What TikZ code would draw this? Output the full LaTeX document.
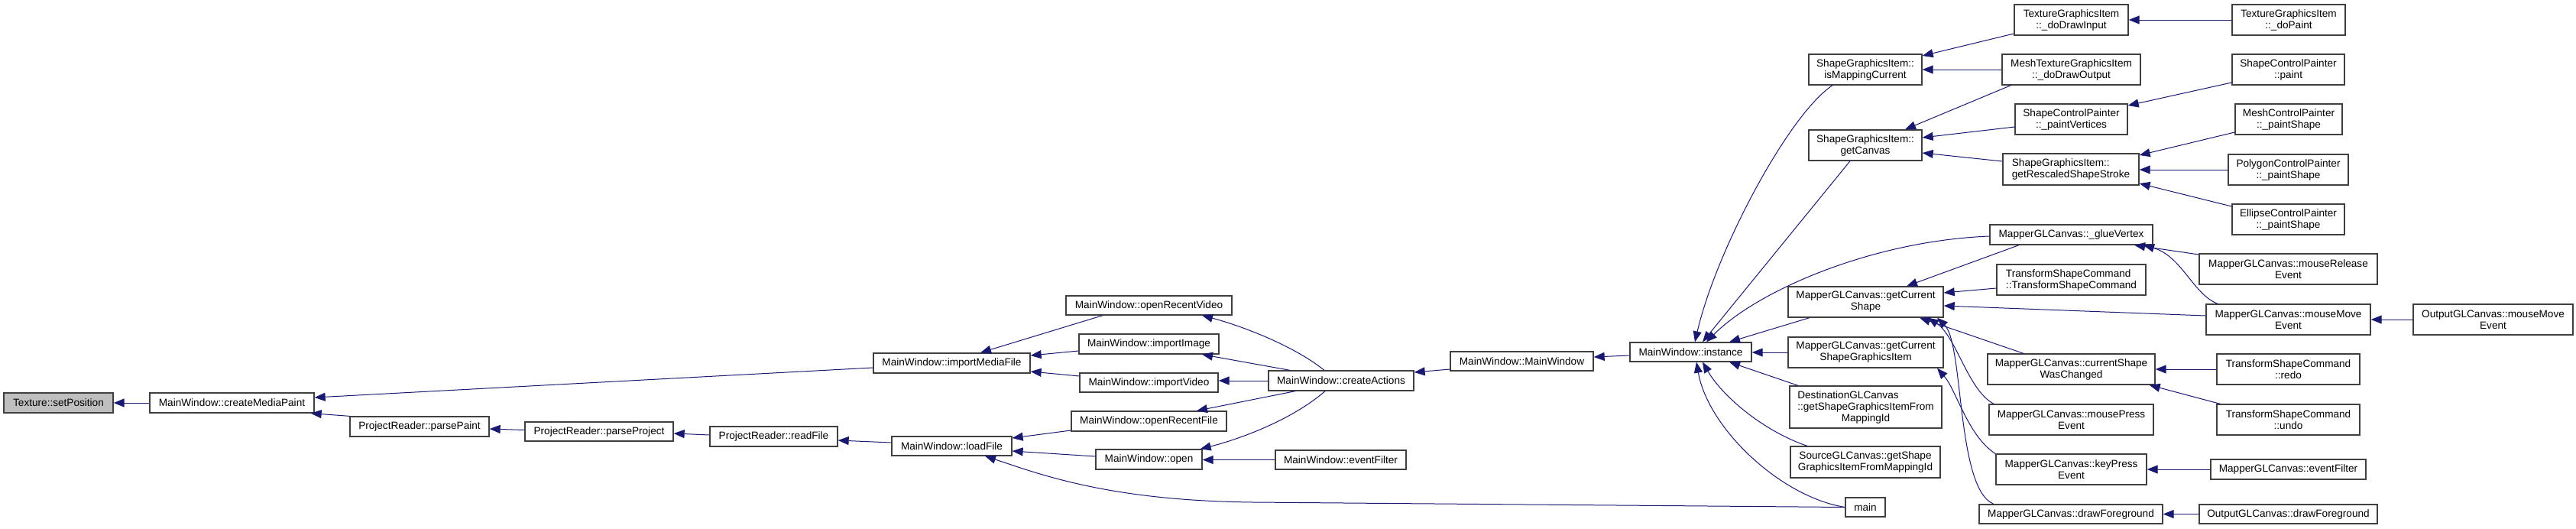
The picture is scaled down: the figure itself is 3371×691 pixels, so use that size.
\documentclass[tikz,border=0pt]{standalone}
\usepackage{fontspec}
\setmainfont{Liberation Sans}
\usetikzlibrary{arrows.meta,calc}
\definecolor{cgEdge}{HTML}{191970}
\definecolor{cgFrame}{HTML}{404040}
\definecolor{cgRoot}{HTML}{BFBFBF}
\tikzset{
  cg node/.style={draw=cgFrame, fill=white, line width=.65pt, inner sep=0pt,
    align=center, font=\fontsize{6.8pt}{7.5pt}\selectfont},
  cg size/.style 2 args={minimum width=#1*.5pt, minimum height=#2*.5pt},
  cg root/.style={cg node, fill=cgRoot},
  cg edge/.style={
    draw=cgEdge,
    line width=.5pt,
    -{Triangle[length=7pt,width=5.5pt]}
  }
}
\begin{document}
\begin{tikzpicture}[x=.5pt,y=-.5pt]
  \useasboundingbox (0,0) rectangle (3371,691);

  \node[cg root, cg size={143}{26}] (tsp) at (76.5,527) {Texture::setPosition};
  \node[cg node, cg size={215}{26}] (cmp) at (303.5,527) {MainWindow::createMediaPaint};
  \node[cg node, cg size={182}{26}] (ppaint) at (549,558) {ProjectReader::parsePaint};
  \node[cg node, cg size={194}{25}] (pproj) at (784,564.5) {ProjectReader::parseProject};
  \node[cg node, cg size={167}{26}] (rf) at (1012.5,571) {ProjectReader::readFile};
  \node[cg node, cg size={205}{26}] (imf) at (1245.5,475) {MainWindow::importMediaFile};
  \node[cg node, cg size={157}{25}] (lf) at (1245.5,583.5) {MainWindow::loadFile};

  \node[cg node, cg size={217}{25}] (orv) at (1503.5,399.5) {MainWindow::openRecentVideo};
  \node[cg node, cg size={183}{26}] (iimg) at (1503.5,450) {MainWindow::importImage};
  \node[cg node, cg size={181}{25}] (ivid) at (1503.5,500.5) {MainWindow::importVideo};
  \node[cg node, cg size={203}{26}] (orf) at (1503.5,551) {MainWindow::openRecentFile};
  \node[cg node, cg size={139}{26}] (open) at (1503.5,601) {MainWindow::open};
  \node[cg node, cg size={190}{26}] (ca) at (1755,498) {MainWindow::createActions};
  \node[cg node, cg size={171}{25}] (mwef) at (1754.5,601.5) {MainWindow::eventFilter};
  \node[cg node, cg size={187}{25}] (mwmw) at (1991.5,472.5) {MainWindow::MainWindow};
  \node[cg node, cg size={159}{25}] (inst) at (2212.5,460.5) {MainWindow::instance};

  \node[cg node, cg size={148}{40}] (smc) at (2441,91) {ShapeGraphicsItem::\\isMappingCurrent};
  \node[cg node, cg size={148}{40}] (sgc) at (2441,190) {ShapeGraphicsItem::\\getCanvas};
  \node[cg node, cg size={203}{40}] (gcs) at (2441.5,395) {MapperGLCanvas::getCurrent\\Shape};
  \node[cg node, cg size={203}{40}] (gcsgi) at (2441.5,461) {MapperGLCanvas::getCurrent\\ShapeGraphicsItem};
  \node[cg node, cg size={199}{55}] (dst) at (2441.5,532.5)
    {\rlap{DestinationGLCanvas}\phantom{::getShapeGraphicsItemFrom}\\::getShapeGraphicsItemFrom\\MappingId};
  \node[cg node, cg size={196}{41}] (src) at (2441,604.5) {SourceGLCanvas::getShape\\GraphicsItemFromMappingId};
  \node[cg node, cg size={52}{25}] (main) at (2441,663.5) {main};

  \node[cg node, cg size={149}{40}] (tdi) at (2710.5,26) {TextureGraphicsItem\\::\_doDrawInput};
  \node[cg node, cg size={181}{40}] (mdo) at (2710.5,91) {MeshTextureGraphicsItem\\::\_doDrawOutput};
  \node[cg node, cg size={147}{40}] (pv) at (2710.5,156) {ShapeControlPainter\\::\_paintVertices};
  \node[cg node, cg size={178}{41}, align=left] (grs) at (2710,221.5) {ShapeGraphicsItem::\\getRescaledShapeStroke};
  \node[cg node, cg size={213}{26}] (gv) at (2710.5,307) {MapperGLCanvas::\_glueVertex};
  \node[cg node, cg size={195}{40}, align=left] (tsc) at (2710.5,366) {TransformShapeCommand\\::TransformShapeCommand};
  \node[cg node, cg size={219}{40}] (csc) at (2710.5,483) {MapperGLCanvas::currentShape\\WasChanged};
  \node[cg node, cg size={215}{40}] (mpe) at (2710.5,549) {MapperGLCanvas::mousePress\\Event};
  \node[cg node, cg size={197}{40}] (kpe) at (2710.5,614) {MapperGLCanvas::keyPress\\Event};
  \node[cg node, cg size={240}{25}] (dfg) at (2710,672.5) {MapperGLCanvas::drawForeground};

  \node[cg node, cg size={148}{40}] (dop) at (2995,26) {TextureGraphicsItem\\::\_doPaint};
  \node[cg node, cg size={147}{40}] (scpp) at (2994.5,91) {ShapeControlPainter\\::paint};
  \node[cg node, cg size={140}{40}] (mcps) at (2995,156) {MeshControlPainter\\::\_paintShape};
  \node[cg node, cg size={157}{40}] (pcps) at (2994.5,222) {PolygonControlPainter\\::\_paintShape};
  \node[cg node, cg size={147}{40}] (ecps) at (2994.5,287) {EllipseControlPainter\\::\_paintShape};
  \node[cg node, cg size={233}{40}] (mre) at (2994.5,352) {MapperGLCanvas::mouseRelease\\Event};
  \node[cg node, cg size={215}{40}] (mme) at (2994.5,418) {MapperGLCanvas::mouseMove\\Event};
  \node[cg node, cg size={187}{40}] (redo) at (2994.5,483) {TransformShapeCommand\\::redo};
  \node[cg node, cg size={187}{40}] (undo) at (2994.5,549) {TransformShapeCommand\\::undo};
  \node[cg node, cg size={203}{26}] (mcef) at (2994.5,614) {MapperGLCanvas::eventFilter};
  \node[cg node, cg size={233}{25}] (odf) at (2994.5,672.5) {OutputGLCanvas::drawForeground};
  \node[cg node, cg size={209}{40}] (omme) at (3262.5,418) {OutputGLCanvas::mouseMove\\Event};

  \coordinate (lfbend) at (1640,657);

  % left part
  \draw[cg edge] (cmp.west) -- (tsp.east);
  \draw[cg edge] ($(imf.west)+(0,6)$) -- ($(cmp.east)+(0,-7)$);
  \draw[cg edge] (ppaint.north west) -- ($(cmp.south east)+(-5,0)$);
  \draw[cg edge] ($(pproj.west)+(0,-2)$) -- ($(ppaint.east)+(0,3)$);
  \draw[cg edge] ($(rf.west)+(0,-2)$) -- ($(pproj.east)+(0,2.5)$);
  \draw[cg edge] ($(lf.west)+(0,-4.5)$) -- ($(rf.east)+(0,5)$);
  \draw[cg edge] ($(orv.south)+(-60.5,0)$) -- ($(imf.north)+(37.5,0)$);
  \draw[cg edge] ($(iimg.west)+(0,9)$) -- ($(imf.east)+(0,-10)$);
  \draw[cg edge] ($(ivid.west)+(0,-8.5)$) -- ($(imf.east)+(0,11)$);
  \draw[cg edge] ($(orf.west)+(0,12)$) -- ($(lf.east)+(0,-10.5)$);
  \draw[cg edge] ($(open.west)+(0,-4)$) -- ($(lf.east)+(0,6.5)$);
  \draw[cg edge] (main.west) -- (lfbend)
    .. controls (1450,655) and (1360,620) .. ($(lf.south)+(43.5,0)$);

  % createActions
  \draw[cg edge] ($(ca.north)+(-22,0)$) .. controls (1690,450) and (1620,425) .. ($(orv.south)+(69.5,0)$);
  \draw[cg edge] ($(ca.north)+(-67,0)$) -- ($(iimg.south)+(69.5,0)$);
  \draw[cg edge] (ca.west) -- (ivid.east |- ca.west);
  \draw[cg edge] ($(ca.south)+(-60,0)$) -- ($(orf.north)+(62.5,0)$);
  \draw[cg edge] ($(ca.south)+(-21,0)$) .. controls (1690,550) and (1620,575) .. ($(open.north east)+(-3,0)$);
  \draw[cg edge] (mwef.west) -- (open.east |- mwef.west);
  \draw[cg edge] ($(mwmw.west)+(0,10.5)$) -- ($(ca.east)+(0,-11)$);
  \draw[cg edge] ($(inst.west)+(0,4.5)$) -- ($(mwmw.east)+(0,-5.5)$);

  % instance
  \draw[cg edge] ($(smc.south)+(-43,0)$) .. controls (2340,150) and (2245,330) .. ($(inst.north)+(5.5,0)$);
  \draw[cg edge] ($(sgc.south)+(-20,0)$) -- ($(inst.north)+(15.5,0)$);
  \draw[cg edge] ($(gv.west)+(0,2)$) .. controls (2450,315) and (2300,380) .. ($(inst.north)+(20.5,0)$);
  \draw[cg edge] ($(gcs.south)+(-73.5,0)$) -- ($(inst.north)+(50.5,0)$);
  \draw[cg edge] (gcsgi.west) -- (inst.east |- gcsgi.west);
  \draw[cg edge] ($(dst.north)+(-88.5,0)$) -- ($(inst.south)+(50.5,0)$);
  \draw[cg edge] ($(src.north)+(-76,0)$) .. controls (2310,565) and (2255,520) .. ($(inst.south)+(15.5,0)$);
  \draw[cg edge] (main.west) .. controls (2330,650) and (2235,560) .. ($(inst.south)+(7.5,0)$);

  % shape items
  \draw[cg edge] ($(tdi.west)+(0,18)$) -- ($(smc.east)+(0,-18)$);
  \draw[cg edge] (mdo.west) -- (smc.east);
  \draw[cg edge] ($(mdo.south west)+(12,0)$) -- ($(sgc.north)+(52,0)$);
  \draw[cg edge] ($(pv.west)+(0,10)$) -- ($(sgc.east)+(0,-10)$);
  \draw[cg edge] ($(grs.west)+(0,-10.5)$) -- ($(sgc.east)+(0,10)$);
  \draw[cg edge] (dop.west) -- (tdi.east);
  \draw[cg edge] ($(scpp.west)+(0,17)$) -- ($(pv.east)+(0,-18)$);
  \draw[cg edge] ($(mcps.west)+(0,17)$) -- ($(grs.east)+(0,-18.5)$);
  \draw[cg edge] (pcps.west) -- (grs.east |- pcps.west);
  \draw[cg edge] ($(ecps.west)+(0,-17)$) -- ($(grs.east)+(0,18.5)$);

  % canvas
  \draw[cg edge] ($(gv.south)+(-68.5,0)$) -- ($(gcs.north)+(53.5,0)$);
  \draw[cg edge] ($(tsc.west)+(0,11)$) -- ($(gcs.east)+(0,-12)$);
  \draw[cg edge] ($(mme.west)+(0,-5)$) -- ($(gcs.east)+(0,5)$);
  \draw[cg edge] ($(csc.north)+(-62.5,0)$) -- ($(gcs.south)+(70.5,0)$);
  \draw[cg edge] ($(mpe.north)+(-101.5,0)$) .. controls (2575,510) and (2560,440) .. ($(gcs.south)+(81.5,0)$);
  \draw[cg edge] ($(dfg.north)+(-101,0)$) .. controls (2560,640) and (2570,450) .. ($(gcs.south)+(93.5,0)$);
  \draw[cg edge] ($(kpe.north)+(-99.5,0)$) .. controls (2575,570) and (2560,510) .. ($(gcsgi.south)+(93.5,0)$);
  \draw[cg edge] ($(mre.west)+(0,-19)$) -- ($(gv.south)+(82.5,0)$);
  \draw[cg edge] ($(mme.north)+(-92.5,0)$) .. controls (2870,385) and (2855,335) .. ($(gv.south)+(94.5,0)$);
  \draw[cg edge] (omme.west) -- (mme.east);
  \draw[cg edge] (redo.west) -- (csc.east);
  \draw[cg edge] ($(undo.north west)+(5,0)$) -- ($(csc.south east)+(-8,0)$);
  \draw[cg edge] (mcef.west) -- (kpe.east);
  \draw[cg edge] (odf.west) -- (dfg.east);
\end{tikzpicture}
\end{document}
